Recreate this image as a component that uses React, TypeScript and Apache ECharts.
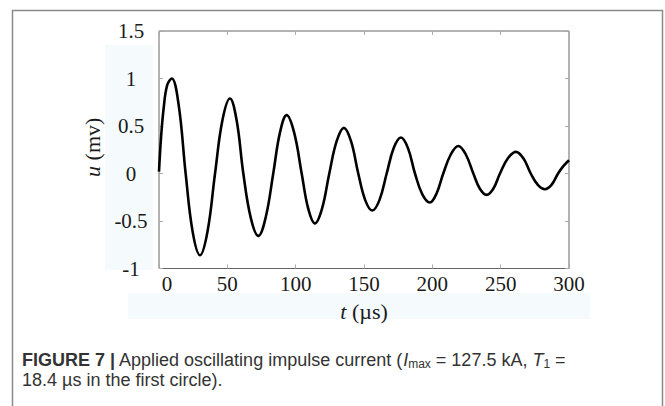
import React, { useEffect, useRef } from "react";
import * as echarts from "echarts";

// Time (µs) of points
const times = [0, 1.5, 3.5, 6, 9.3, 14.4, 19.5, 24.7, 30, 35.5, 41, 46.4, 51.9, 56.8, 61.7, 67.2, 72.7, 78.1, 83.6, 88.5, 93.4, 98.9, 104.4, 109.2, 114.1, 119.3, 124.6, 130, 135.3, 140.5, 145.8, 150.9, 156, 161.3, 166.6, 171.8, 177, 182.1, 187.3, 192.7, 198.2, 203.1, 208, 213.5, 219, 224.5, 230, 234.8, 239.7, 244.6, 249.5, 255.3, 261.2, 266.6, 272, 277.2, 282.4, 287.2, 292, 296, 300];
// Voltage u (mv)
const values = [0.02, 0.38, 0.7, 0.93, 1.0, 0.72, 0, -0.62, -0.86, -0.61, 0, 0.56, 0.79, 0.56, 0, -0.47, -0.657, -0.46, 0, 0.43, 0.614, 0.43, 0, -0.37, -0.526, -0.37, 0, 0.34, 0.48, 0.34, 0, -0.28, -0.39, -0.28, 0, 0.27, 0.379, 0.27, 0, -0.22, -0.305, -0.21, 0, 0.2, 0.29, 0.2, 0, -0.16, -0.225, -0.16, 0, 0.16, 0.228, 0.16, 0, -0.12, -0.165, -0.12, 0, 0.08, 0.14];

const xTicks = [0, 50, 100, 150, 200, 250, 300];
const yTicks = [-1, -0.5, 0, 0.5, 1, 1.5];

const captionLine1 = ["FIGURE 7 |", " Applied oscillating impulse current (", "I", "max", " = 127.5 kA, ", "T", "1", " ="];
const captionLine2 = "18.4 µs in the first circle).";

const SERIF = "'Liberation Serif', 'Times New Roman', serif";
const SANS = "'Liberation Sans', Arial, sans-serif";

export default function App() {
  const ref = useRef<HTMLDivElement>(null);
  useEffect(() => {
    if (!ref.current) return;
    const chart = echarts.init(ref.current, null, { renderer: "svg" });
    const data = times.map((t, i) => [t, values[i]]);
    const tickStyle = { show: true, inside: true, length: 4, lineStyle: { color: "#aaa", width: 1 } };
    const noLine = { show: false, onZero: false };
    const c1 = captionLine1;
    chart.setOption({
      animation: false,
      backgroundColor: "#fff",
      grid: { left: 159, top: 31, width: 410, height: 237.5, show: true, borderColor: "#666", borderWidth: 1, backgroundColor: "transparent" },
      xAxis: [
        {
          type: "value", min: xTicks[0], max: xTicks[xTicks.length - 1], interval: 50, position: "bottom",
          axisLine: noLine, axisTick: tickStyle, splitLine: { show: false },
          axisLabel: {
            margin: 5, color: "#1a1a1a", fontFamily: SERIF, fontSize: 21,
            formatter: (v: number) => (v === 0 ? "{z|0}" : String(v)),
            rich: { z: { padding: [0, 0, 0, 16], fontFamily: SERIF, fontSize: 21, color: "#1a1a1a" } },
          },
          name: "{i|t} (µs)", nameLocation: "middle", nameGap: 32,
          nameTextStyle: { fontFamily: SERIF, fontSize: 22, color: "#1a1a1a", rich: { i: { fontStyle: "italic", fontFamily: SERIF, fontSize: 22, color: "#1a1a1a" } } },
        },
        {
          type: "value", min: 0, max: 300, interval: 50, position: "top",
          axisLine: noLine, axisTick: tickStyle, axisLabel: { show: false }, splitLine: { show: false },
        },
      ],
      yAxis: [
        {
          type: "value", min: yTicks[0], max: yTicks[yTicks.length - 1], interval: 0.5, position: "left",
          axisLine: noLine, axisTick: tickStyle, splitLine: { show: false },
          axisLabel: { margin: 28, align: "center", color: "#1a1a1a", fontFamily: SERIF, fontSize: 21 },
          name: "{i|u} (mv)", nameLocation: "middle", nameGap: 49,
          nameTextStyle: { fontFamily: SERIF, fontSize: 22, color: "#1a1a1a", padding: [0, 0, 0, 5], rich: { i: { fontStyle: "italic", fontFamily: SERIF, fontSize: 22, color: "#1a1a1a" } } },
        },
        {
          type: "value", min: -1, max: 1.5, interval: 0.5, position: "right",
          axisLine: noLine, axisTick: tickStyle, axisLabel: { show: false }, splitLine: { show: false },
        },
      ],
      series: [
        {
          type: "line", data, smooth: 0.4, showSymbol: false, symbol: "none",
          lineStyle: { color: "#000", width: 2.6 }, xAxisIndex: 0, yAxisIndex: 0,
        },
      ],
      graphic: [
        { type: "rect", z: -10, silent: true, shape: { x: 105, y: 45, width: 48, height: 225 }, style: { fill: "#f5fbfc" } },
        { type: "rect", z: -10, silent: true, shape: { x: 128, y: 293, width: 462, height: 26 }, style: { fill: "#f5fbfc" } },
        { type: "rect", silent: true, shape: { x: 12.5, y: 10.5, width: 650, height: 430 }, style: { fill: "none", stroke: "#8a8a8a", lineWidth: 1.5 } },
        {
          type: "text", silent: true, x: 22, y: 349,
          style: {
            text: `{b|${c1[0]}}{r|${c1[1]}}{i|${c1[2]}}{s|${c1[3]}}{r|${c1[4]}}{i|${c1[5]}}{s|${c1[6]}}{r|${c1[7]}}`,
            fontFamily: SANS, fontSize: 18, fill: "#333", verticalAlign: "top", align: "left",
            rich: {
              b: { fontFamily: SANS, fontSize: 18, fontWeight: "bold", color: "#1a1a1a", lineHeight: 21, verticalAlign: "middle" },
              r: { fontFamily: SANS, fontSize: 18, color: "#333", lineHeight: 21, verticalAlign: "middle" },
              i: { fontFamily: SANS, fontSize: 18, fontStyle: "italic", color: "#333", lineHeight: 21, verticalAlign: "middle" },
              s: { fontFamily: SANS, fontSize: 12, color: "#333", verticalAlign: "bottom" },
            },
          },
        },
        {
          type: "text", silent: true, x: 22, y: 371,
          style: { text: captionLine2, fontFamily: SANS, fontSize: 18, fill: "#333", verticalAlign: "top", align: "left" },
        },
      ],
    });
    return () => chart.dispose();
  }, []);
  return <div ref={ref} style={{ position: "absolute", left: 0, top: 0, width: 665, height: 406 }} />;
}
